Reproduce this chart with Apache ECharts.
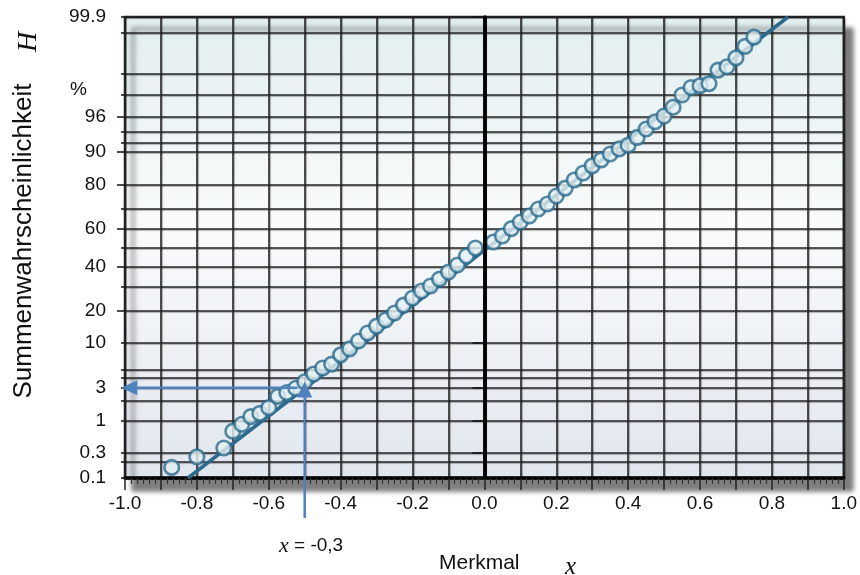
<!DOCTYPE html>
<html>
<head>
<meta charset="utf-8">
<script src="https://cdn.jsdelivr.net/npm/echarts@6/dist/echarts.min.js"></script>
<style>
  html, body { margin: 0; padding: 0; background: #fff; }
  #chart { width: 860px; height: 575px; }
</style>
</head>
<body>
<div id="chart"></div>
<script>
// Merkmal x
const pointX = [
  -0.87, -0.80, -0.725, -0.70, -0.675, -0.65, -0.625, -0.60, -0.575, -0.55,
  -0.525, -0.50, -0.475, -0.45, -0.425, -0.40, -0.375, -0.35, -0.325, -0.30,
  -0.275, -0.25, -0.225, -0.20, -0.175, -0.15, -0.125, -0.10, -0.075, -0.05,
  -0.025, 0.025, 0.05, 0.075, 0.10, 0.125, 0.15, 0.175, 0.20, 0.225,
  0.25, 0.275, 0.30, 0.325, 0.35, 0.375, 0.40, 0.425, 0.45, 0.475,
  0.50, 0.525, 0.55, 0.575, 0.60, 0.625, 0.65, 0.675, 0.70, 0.725, 0.75
]
// Summenwahrscheinlichkeit H in %
const pointH = [
  0.16, 0.25, 0.36, 0.69, 0.89, 1.17, 1.31, 1.59, 2.3, 2.6,
  2.96, 3.6, 4.5, 5.3, 5.9, 7.5, 8.7, 10.5, 12.6, 14.6,
  16.6, 19, 22, 24.9, 28, 30.3, 33.6, 37.1, 40.7, 45.5,
  49.7, 52.9, 56.1, 60, 63.4, 66.4, 69.7, 72, 75.5, 78.7,
  81.7, 84.1, 86.3, 88, 89.5, 90.7, 91.5, 93, 94.4, 95.4,
  96.1, 97, 97.95, 98.4, 98.5, 98.6, 99.13, 99.23, 99.45, 99.65, 99.76
]
// Ausgleichsgerade
const fitX = [-0.825, 0.845]
const fitH = [0.1, 99.9]

// Ablese-Pfeile
const arrowUpX = [-0.5, -0.5]
const arrowUpH = [0.0144, 2.85]
const arrowLeftX = [-0.52, -0.988]
const arrowLeftH = [3, 3]

// Wahrscheinlichkeitsnetz
const labelH = [0.1, 0.3, 1, 3, 10, 20, 40, 60, 80, 90, 96, 99.9]
const longTickH = [0.1, 0.3, 1, 3, 10, 99.9]
const midTickH = [20, 40, 60, 80, 90, 96]
const gridH = [0.1, 0.2, 0.3, 1, 2, 3, 4, 5, 10, 20, 30, 40, 50, 60, 70, 80, 90, 92, 94, 96, 98, 99, 99.8, 99.9]

// inverse normal CDF (Acklam)
function probit(p) {
  const a = [-3.969683028665376e+01, 2.209460984245205e+02, -2.759285104469687e+02, 1.383577518672690e+02, -3.066479806614716e+01, 2.506628277459239e+00]
  const b = [-5.447609879822406e+01, 1.615858368580409e+02, -1.556989798598866e+02, 6.680131188771972e+01, -1.328068155288572e+01]
  const c = [-7.784894002430293e-03, -3.223964580411365e-01, -2.400758277161838e+00, -2.549732539343734e+00, 4.374664141464968e+00, 2.938163982698783e+00]
  const d = [7.784695709041462e-03, 3.224671290700398e-01, 2.445134137142996e+00, 3.754408661907416e+00]
  const pl = 0.02425
  let q, r
  if (p < pl) {
    q = Math.sqrt(-2 * Math.log(p))
    return (((((c[0] * q + c[1]) * q + c[2]) * q + c[3]) * q + c[4]) * q + c[5]) / ((((d[0] * q + d[1]) * q + d[2]) * q + d[3]) * q + 1)
  }
  if (p > 1 - pl) {
    q = Math.sqrt(-2 * Math.log(1 - p))
    return -(((((c[0] * q + c[1]) * q + c[2]) * q + c[3]) * q + c[4]) * q + c[5]) / ((((d[0] * q + d[1]) * q + d[2]) * q + d[3]) * q + 1)
  }
  q = p - 0.5
  r = q * q
  return (((((a[0] * r + a[1]) * r + a[2]) * r + a[3]) * r + a[4]) * r + a[5]) * q / (((((b[0] * r + b[1]) * r + b[2]) * r + b[3]) * r + b[4]) * r + 1)
}
const z = h => probit(h / 100)
const zMin = z(0.1)
const zMax = z(99.9)

const FONT = 'Liberation Sans, Arial, sans-serif'
const SERIF = 'Liberation Serif, Times New Roman, serif'
const LINE = '#2c6b8e'
const ARROW = '#4f81bd'

const gridLine = {
  color: '#262626', width: 1.6,
  shadowColor: 'rgba(0,0,0,0.35)', shadowBlur: 1, shadowOffsetX: 1, shadowOffsetY: 1
}

function yAxisBase(extra) {
  return Object.assign({
    type: 'value', position: 'left', min: zMin, max: zMax,
    axisLine: { show: false },
    axisLabel: { show: false },
    splitLine: { show: false }
  }, extra)
}

const chart = echarts.init(document.getElementById('chart'))

chart.setOption({
  animation: false,
  grid: {
    left: 125, right: 10, top: 17, bottom: 97,
    show: true,
    borderColor: '#1a1a1a', borderWidth: 2.5,
    backgroundColor: new echarts.graphic.LinearGradient(0, 0, 0, 1, [
      { offset: 0, color: '#e2eeef' },
      { offset: 0.45, color: '#f9fbfc' },
      { offset: 1, color: '#e1e6ee' }
    ]),
    shadowColor: 'rgba(0,0,0,0.5)', shadowBlur: 5, shadowOffsetX: 8, shadowOffsetY: 12
  },
  xAxis: {
    type: 'value', min: -1, max: 1, interval: 0.1,
    axisLine: { show: true, onZero: false, lineStyle: { color: '#000', width: 3.5 } },
    axisTick: { show: true, length: 12, lineStyle: { color: '#222', width: 1.5 } },
    minorTick: { show: true, splitNumber: 6, length: 6, lineStyle: { color: '#333', width: 1.2 } },
    axisLabel: {
      margin: 16, color: '#111', fontSize: 19, fontFamily: FONT,
      formatter: v => (Math.round(v * 10) % 2 === 0 ? v.toFixed(1) : '')
    },
    splitLine: { show: true, lineStyle: gridLine }
  },
  yAxis: [
    yAxisBase({
      axisLine: { show: true, lineStyle: { color: '#000', width: 3.5 } },
      axisTick: { show: true, length: 12, customValues: longTickH.map(z), lineStyle: { color: '#111', width: 1.5 } },
      axisLabel: {
        show: true, margin: 19, color: '#111', fontSize: 19, fontFamily: FONT,
        customValues: labelH.map(z),
        formatter: v => {
          const h = labelH.find(l => Math.abs(z(l) - v) < 1e-6)
          return h === undefined ? '' : String(h)
        }
      }
    }),
    yAxisBase({
      axisTick: { show: true, length: 8, customValues: midTickH.map(z), lineStyle: { color: '#111', width: 1.5 } }
    }),
    yAxisBase({
      axisTick: { show: true, length: 4, customValues: gridH.map(z), lineStyle: { color: '#111', width: 1.5 } },
      splitLine: { show: true, lineStyle: gridLine }
    })
  ],
  series: [
    {
      type: 'line', data: [], z: 2, silent: true,
      markLine: {
        silent: true, symbol: 'none', label: { show: false },
        lineStyle: { color: '#000', width: 3.5, type: 'solid' },
        emphasis: { disabled: true },
        data: [{ xAxis: 0 }]
      }
    },
    {
      type: 'line', z: 3, silent: true, symbol: 'none',
      data: fitX.map((x, i) => [x, z(fitH[i])]),
      lineStyle: { color: LINE, width: 3.5 }
    },
    {
      type: 'scatter', z: 4, silent: true,
      symbol: 'circle', symbolSize: 14.5,
      data: pointX.map((x, i) => [x, z(pointH[i])]),
      itemStyle: { color: '#e4f0f2', borderColor: LINE, borderWidth: 2.6 }
    },
    {
      type: 'line', z: 5, silent: true, clip: false,
      symbol: 'triangle', symbolSize: [15, 16],
      data: [
        { value: [arrowUpX[0], z(arrowUpH[0])], symbol: 'none' },
        { value: [arrowUpX[1], z(arrowUpH[1])] }
      ],
      lineStyle: { color: ARROW, width: 2.5 },
      itemStyle: { color: ARROW }
    },
    {
      type: 'line', z: 5, silent: true, clip: false,
      symbol: 'triangle', symbolSize: [15, 16],
      data: [
        { value: [arrowLeftX[0], z(arrowLeftH[0])], symbol: 'none' },
        { value: [arrowLeftX[1], z(arrowLeftH[1])], symbolRotate: 90 }
      ],
      lineStyle: { color: ARROW, width: 2.5 },
      itemStyle: { color: ARROW }
    }
  ],
  graphic: [
    {
      type: 'text', x: 24, y: 241, rotation: Math.PI / 2,
      style: { text: 'Summenwahrscheinlichkeit', font: '26px ' + FONT, fill: '#111',
        align: 'center', verticalAlign: 'middle', textAlign: 'center', textVerticalAlign: 'middle' }
    },
    {
      type: 'text', x: 29, y: 42, rotation: Math.PI / 2,
      style: { text: 'H', font: 'italic 28px ' + SERIF, fill: '#111',
        align: 'center', verticalAlign: 'middle', textAlign: 'center', textVerticalAlign: 'middle' }
    },
    {
      type: 'text', x: 70, y: 90,
      style: { text: '%', font: '19px ' + FONT, fill: '#111',
        verticalAlign: 'middle', textVerticalAlign: 'middle' }
    },
    {
      type: 'text', x: 279, y: 546,
      style: {
        text: '{i|x} = -0,3', font: '19px ' + FONT, fill: '#111',
        verticalAlign: 'middle', textVerticalAlign: 'middle',
        rich: { i: { font: 'italic 22px ' + SERIF, fill: '#111' } }
      }
    },
    {
      type: 'text', x: 439, y: 563,
      style: { text: 'Merkmal', font: '21px ' + FONT, fill: '#111',
        verticalAlign: 'middle', textVerticalAlign: 'middle' }
    },
    {
      type: 'text', x: 565, y: 567,
      style: { text: 'x', font: 'italic 25px ' + SERIF, fill: '#111',
        verticalAlign: 'middle', textVerticalAlign: 'middle' }
    }
  ]
})
</script>
</body>
</html>
